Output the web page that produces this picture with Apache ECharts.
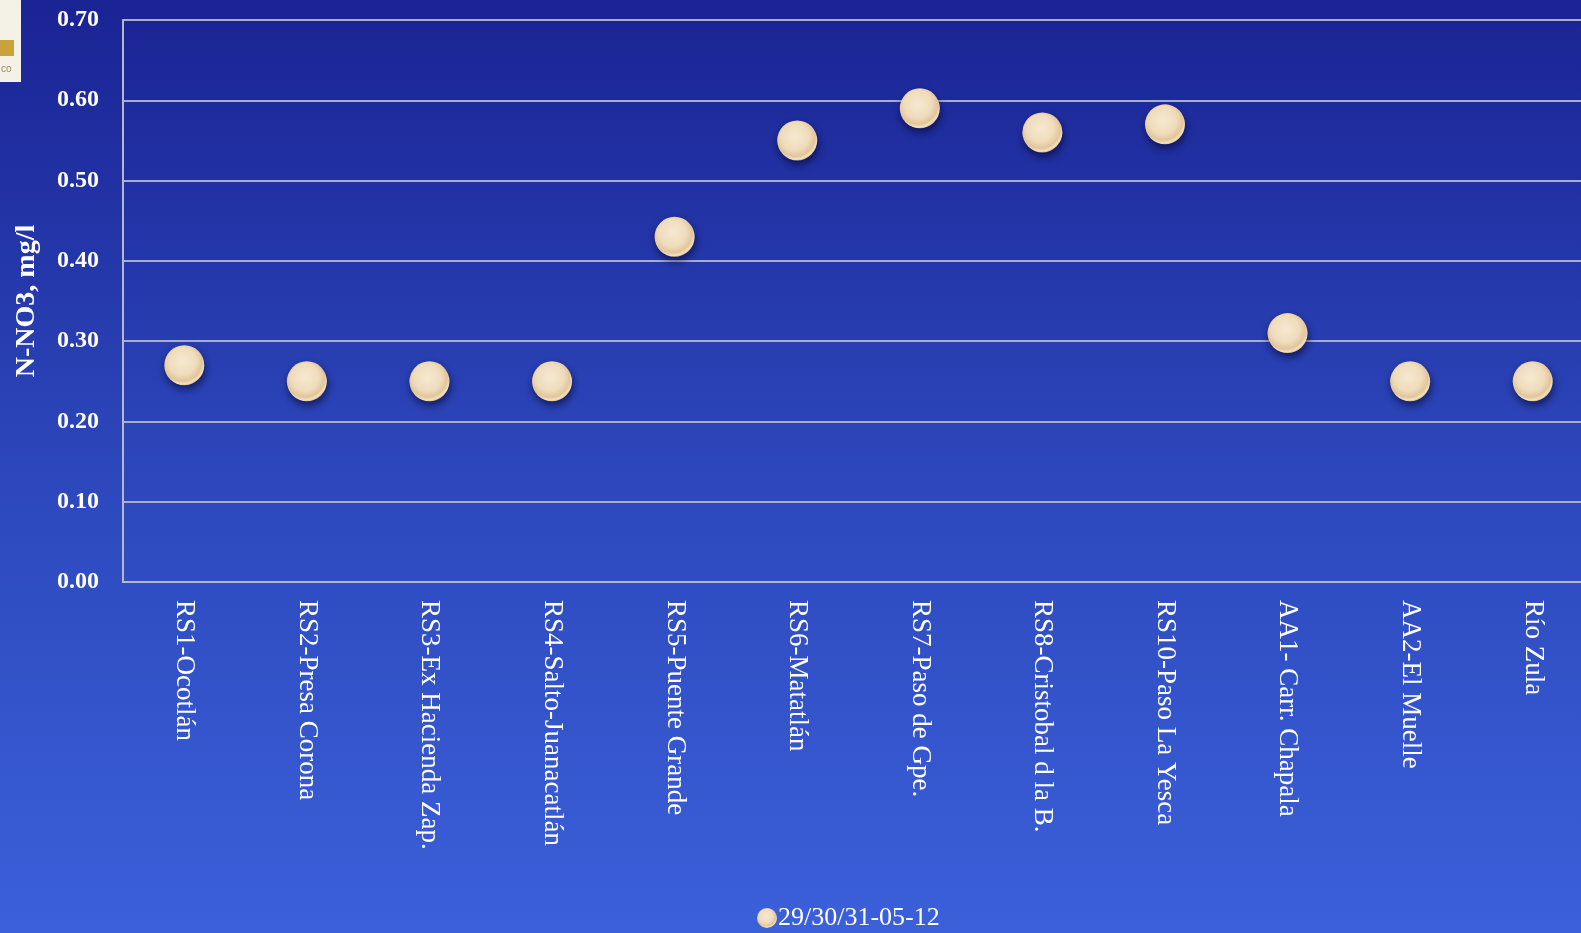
<!DOCTYPE html>
<html><head><meta charset="utf-8">
<script src="https://cdn.jsdelivr.net/npm/echarts@6/dist/echarts.min.js"></script>
<style>html,body{margin:0;padding:0;}#c{width:1581px;height:933px;}</style>
</head><body><div id="c"></div>
<script>
const categories = ["RS1-Ocotlán","RS2-Presa Corona","RS3-Ex Hacienda Zap.","RS4-Salto-Juanacatlán","RS5-Puente Grande","RS6-Matatlán","RS7-Paso de Gpe.","RS8-Cristobal d la B.","RS10-Paso La Yesca","AA1- Carr. Chapala","AA2-El Muelle","Río Zula"];
const seriesName = "29/30/31-05-12";
const values = [0.27, 0.25, 0.25, 0.25, 0.43, 0.55, 0.59, 0.56, 0.57, 0.31, 0.25, 0.25];
const yTicks = {min: 0, max: 0.7, interval: 0.1};
const yName = "N-NO3, mg/l";

const chart = echarts.init(document.getElementById('c'));
const pearl = new echarts.graphic.RadialGradient(0.45, 0.4, 0.62, [
  {offset: 0, color: '#f6e8d0'},
  {offset: 0.55, color: '#efdcbc'},
  {offset: 0.8, color: '#e2c59a'},
  {offset: 0.92, color: '#f3e2c0'},
  {offset: 1, color: '#caa670'}
]);
chart.setOption({
  backgroundColor: new echarts.graphic.LinearGradient(0, 0, 0, 1, [
    {offset: 0, color: '#1a2394'},
    {offset: 0.5, color: '#2c47bb'},
    {offset: 1, color: '#3b60da'}
  ]),
  graphic: [
    {type: 'rect', left: 0, top: 0, shape: {width: 21, height: 82}, style: {fill: '#f4f1e6'}},
    {type: 'rect', left: 0, top: 40, shape: {width: 14, height: 16}, style: {fill: '#c9a23a'}},
    {type: 'text', left: 1, top: 64, style: {text: 'co', fill: '#9a8a5a', font: '10px Liberation Sans'}}
  ],
  legend: {
    top: 900, left: 752,
    data: [seriesName],
    itemWidth: 20, itemHeight: 20, itemGap: 4,
    icon: 'circle',
    textStyle: {color: '#ffffff', fontFamily: 'Liberation Serif', fontSize: 26, padding: [0,0,0,-4]}
  },
  grid: {left: 123, top: 20, right: -13, bottom: 351, outerBoundsMode: 'none', containLabel: false},
  xAxis: {
    type: 'category', data: categories, boundaryGap: true,
    axisLine: {lineStyle: {color: '#b4b8c8', width: 2}},
    axisTick: {show: false},
    axisLabel: {rotate: -90, color: '#ffffff', fontFamily: 'Liberation Serif', fontSize: 27, margin: 18, interval: 0}
  },
  yAxis: {
    type: 'value', min: yTicks.min, max: yTicks.max, interval: yTicks.interval,
    name: yName, nameLocation: 'middle', nameGap: 82, nameRotate: 90,
    nameTextStyle: {color: '#ffffff', fontFamily: 'Liberation Serif', fontWeight: 'bold', fontSize: 28},
    axisLine: {show: true, lineStyle: {color: '#b4b8c8', width: 2}},
    axisTick: {show: false},
    splitLine: {lineStyle: {color: '#a9aec6', width: 2}},
    axisLabel: {color: '#ffffff', fontFamily: 'Liberation Serif', fontWeight: 'bold', fontSize: 24, margin: 24,
      formatter: v => v.toFixed(2)}
  },
  series: [{
    name: seriesName, type: 'scatter', data: values,
    symbol: 'circle', symbolSize: 40,
    itemStyle: {color: pearl, opacity: 1, shadowBlur: 8, shadowColor: 'rgba(0,0,30,0.6)', shadowOffsetY: 4, shadowOffsetX: 1},
    emphasis: {disabled: true}
  }]
});
</script></body></html>
